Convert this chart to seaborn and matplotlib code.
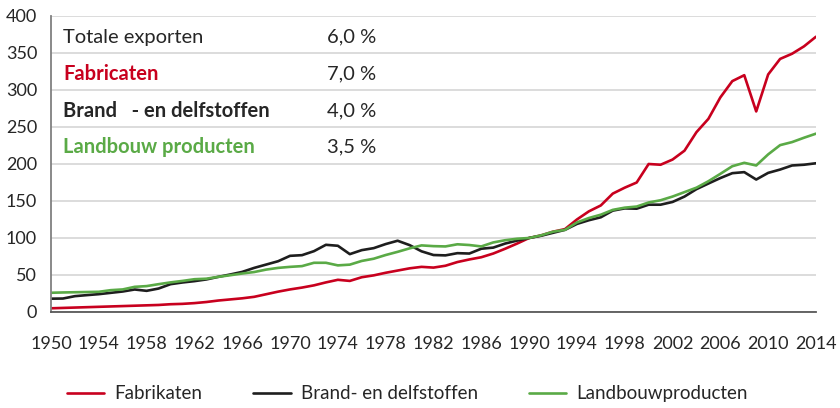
"""
Exportvolume naar goederengroep, 1950-2014 (1990 = 100).
"""

import matplotlib.pyplot as plt
import pandas as pd
import seaborn as sns

# Data (index, 1990 = 100)
YEARS = list(range(1950, 2015))

FABRIKATEN = [
    5, 5.5, 6, 6.5, 7, 7.5, 8, 8.5, 9, 9.5,
    10.5, 11, 12, 13.5, 15.5, 17, 18.5, 20.5, 24, 27.5,
    30.5, 33, 36, 40, 43.5, 42, 47, 49.5, 53, 56,
    59, 61, 60, 62.5, 67.5, 71, 74, 79, 85.5, 92.5,
    100, 103.5, 108.5, 112, 125, 136, 144, 160, 168, 175,
    200, 199, 206, 218, 243, 261, 290, 312, 320, 271,
    321, 342, 349, 359, 372,
]

BRANDSTOFFEN = [
    18, 18.2, 21.4, 22.8, 24.1, 25.9, 27.7, 30.4, 28.6, 31.7,
    37.6, 39.9, 41.7, 44, 47.5, 50.7, 54.2, 59.6, 64.1, 68.6,
    75.9, 76.8, 82.2, 90.8, 89.5, 78.2, 83.6, 86.3, 91.8, 96.3,
    90.4, 82, 77, 76.5, 79.5, 79, 85.5, 87, 92.5, 96.5,
    100, 103, 107, 111, 119, 124, 128, 137, 140, 139.6,
    145, 145, 148.7, 156, 166, 173.6, 181, 187.6, 189, 179,
    188, 192.5, 198, 199, 201,
]

LANDBOUW = [
    26, 26.4, 26.7, 27, 27.3, 29.5, 30.5, 34, 35, 37.6,
    40, 42, 44.3, 45, 47.5, 49.7, 52, 54, 57.3, 59.6,
    61, 62, 66.5, 66.5, 63, 64, 69, 72, 77, 81.3,
    86, 90, 89, 88.6, 91.5, 90.5, 88.6, 94, 97, 99,
    100, 103.6, 108.5, 111, 121, 127, 131.5, 138, 141, 142.5,
    148, 151, 156, 162, 168, 176.7, 186.7, 197, 201.6, 198,
    213, 225.5, 229.6, 235.5, 241,
]

SERIES_NAMES = ["Fabrikaten", "Brand- en delfstoffen", "Landbouwproducten"]
COLORS = ["#c8001e", "#1e1e1e", "#5aaa46"]

# Growth figures shown in the upper-left box
BOX_LABELS = ["Totale exporten", "Fabricaten", "Brand   - en delfstoffen", "Landbouw producten"]
BOX_VALUES = ["6,0 %", "7,0 %", "4,0 %", "3,5 %"]
BOX_COLORS = ["#262626", "#c8001e", "#262626", "#5aaa46"]
BOX_WEIGHTS = ["normal", "bold", "bold", "bold"]

X_TICKS = list(range(1950, 2015, 4))
Y_TICKS = list(range(0, 401, 50))


def build_frame() -> pd.DataFrame:
    parts = []
    for name, values in zip(SERIES_NAMES, [FABRIKATEN, BRANDSTOFFEN, LANDBOUW]):
        parts.append(pd.DataFrame({"jaar": YEARS, "index": values, "groep": name}))
    return pd.concat(parts, ignore_index=True)


def main() -> None:
    sns.set_theme(style="white")
    plt.rcParams["font.family"] = ["Lato", "DejaVu Sans"]

    df = build_frame()

    fig = plt.figure(figsize=(8.4, 4.08), dpi=100)
    ax = fig.add_axes([0.0607, 0.2353, 0.9107, 0.7255])

    sns.lineplot(
        data=df,
        x="jaar",
        y="index",
        hue="groep",
        hue_order=SERIES_NAMES,
        palette=COLORS,
        linewidth=1.9,
        ax=ax,
    )

    ax.set_xlim(1950, 2014)
    ax.set_ylim(0, 400)
    ax.set_xticks(X_TICKS)
    ax.set_yticks(Y_TICKS)
    ax.set_xlabel("")
    ax.set_ylabel("")

    ax.grid(axis="y", color="#d9d9d9", linewidth=1.3)
    ax.set_axisbelow(True)
    for side in ["top", "right"]:
        ax.spines[side].set_visible(False)
    ax.spines["left"].set_color("#808080")
    ax.spines["left"].set_linewidth(1.3)
    ax.spines["bottom"].set_color("#595959")
    ax.spines["bottom"].set_linewidth(1.3)

    ax.tick_params(axis="x", direction="out", length=6, width=1, color="#a6a6a6",
                   labelsize=13, labelcolor="#262626", pad=11)
    ax.tick_params(axis="y", length=0, labelsize=13, labelcolor="#262626", pad=10)

    # Growth box in the upper-left corner
    rows_y = [0.929, 0.804, 0.679, 0.557]
    for y, label, value, color, weight in zip(rows_y, BOX_LABELS, BOX_VALUES, BOX_COLORS, BOX_WEIGHTS):
        ax.text(0.0157, y, label, transform=ax.transAxes, fontsize=14.5,
                color=color, fontweight=weight, va="center", ha="left")
        ax.text(0.361, y, value, transform=ax.transAxes, fontsize=14.5,
                color="#262626", va="center", ha="left")

    handles, labels = ax.get_legend_handles_labels()
    ax.get_legend().remove()
    fig.legend(
        handles,
        labels,
        loc="center",
        bbox_to_anchor=(0.485, 0.035),
        ncol=3,
        frameon=False,
        fontsize=13.5,
        handlelength=2.0,
        handletextpad=0.55,
        columnspacing=2.7,
        labelcolor="#262626",
    )

    fig.savefig("out.png", dpi=100)
    plt.close(fig)


if __name__ == "__main__":
    main()
